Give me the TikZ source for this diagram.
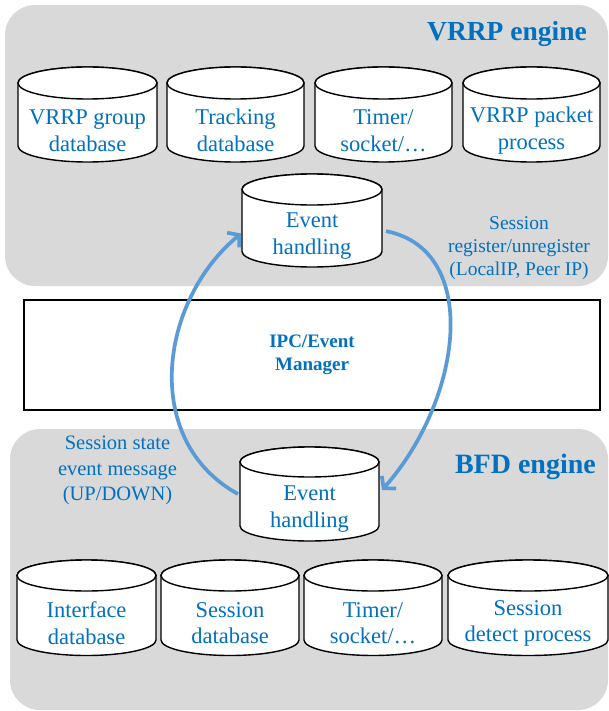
\documentclass[tikz,border=0pt]{standalone}
\usepackage{fontspec}
\setmainfont{Liberation Serif}
\usetikzlibrary{arrows.meta}
\definecolor{txtblue}{HTML}{0070C0}
\definecolor{arcblue}{HTML}{5B9BD5}
\definecolor{panelgray}{HTML}{D9D9D9}
\tikzset{
  panel/.style={fill=panelgray, draw=none, rounded corners=30pt},
  cylline/.style={draw=black, line width=1.4pt, fill=white},
  cyltext/.style={text=txtblue, font=\fontsize{22.5}{26.5}\selectfont, align=center, inner sep=0pt},
  bodybox/.style={inner sep=0pt, outer sep=0pt, draw=none},
  lbl/.style={text=txtblue, align=center, inner sep=0pt},
  title/.style={text=txtblue, font=\fontsize{27.5}{32}\selectfont\bfseries, inner sep=0pt},
  ipcbox/.style={draw=black, line width=1.3pt, fill=white, minimum width=576pt, minimum height=110pt, inner sep=0pt,
     text=txtblue, font=\fontsize{19}{22.5}\selectfont\bfseries, align=center},
  flow/.style={draw=arcblue, line width=3.7pt, -{Straight Barb[length=8pt,width=19pt]}}
}
% name, cx, y top centre, y bottom centre, rx, ry, text
\newcommand\dbcyl[7]{%
  \draw[cylline] ({#2-#5},#3) -- ({#2-#5},#4) arc[start angle=180,end angle=0,x radius=#5,y radius=#6]
     -- ({#2+#5},#3) arc[start angle=0,end angle=-180,x radius=#5,y radius=#6] -- cycle;
  \draw[cylline] (#2,#3) ellipse[x radius=#5,y radius=#6];
  \node[bodybox, minimum width={2*#5*1pt}, minimum height={(#4-#3)*1pt}] (#1body) at (#2,{(#3+#4)/2}) {};
  \node[cyltext] (#1) at (#2,{(#3+#4)/2+#6}) {#7};
}
\begin{document}
\begin{tikzpicture}[x=1pt,y=-1pt]
\useasboundingbox (0,0) rectangle (609,711);
% panels
\path[panel] (5,5) rectangle (608,286);
\path[panel] (10,429) rectangle (608,710);
% IPC box
\node[ipcbox] (ipc) at (312,355) {IPC/Event\\Manager};
% VRRP engine cylinders
\dbcyl{vgrp}{87.5}{83}{146}{69.5}{16}{VRRP group\\database}
\dbcyl{vtrk}{235.5}{83}{146}{68.5}{16}{Tracking\\database}
\dbcyl{vtmr}{383.5}{83}{146}{68.5}{16}{Timer/\\socket/\ldots}
\dbcyl{vpkt}{531.5}{83}{146}{68.5}{16}{VRRP packet\\process}
\dbcyl{vev}{312}{189.5}{251.5}{70}{15.5}{Event\\handling}
% BFD engine cylinders
\dbcyl{bev}{309.5}{462}{526}{69.5}{15}{Event\\handling}
\dbcyl{bif}{86.5}{575.5}{640}{69.5}{15.5}{Interface\\database}
\dbcyl{bses}{230}{575.5}{640}{69}{15.5}{Session\\database}
\dbcyl{btmr}{373}{575.5}{640}{69}{15.5}{Timer/\\socket/\ldots}
\dbcyl{bdet}{528}{575.5}{640}{80}{15.5}{Session\\detect process}
% titles
\node[title, anchor=base east] (vtitle) at (587,40.5) {VRRP engine};
\node[title, font=\fontsize{28}{32}\selectfont\bfseries, anchor=base east] (btitle) at (596,473) {BFD engine};
% labels
\node[lbl, font=\fontsize{19.5}{23}\selectfont] (reglbl) at (519,248) {Session\\register/unregister\\(LocalIP, Peer IP)};
\node[lbl, font=\fontsize{20.5}{25.5}\selectfont] (statelbl) at (117.5,470.5) {Session state\\event message\\(UP/DOWN)};
% flows
\draw[flow, shorten >=1pt] ([xshift=-2pt]bevbody.west) .. controls (140,440) and (160,300) .. (vevbody.190);
\draw[flow, shorten <=4pt] (vevbody.352) .. controls (482,250) and (462,400) .. ([xshift=3pt,yshift=4pt]bevbody.east);
\end{tikzpicture}
\end{document}
